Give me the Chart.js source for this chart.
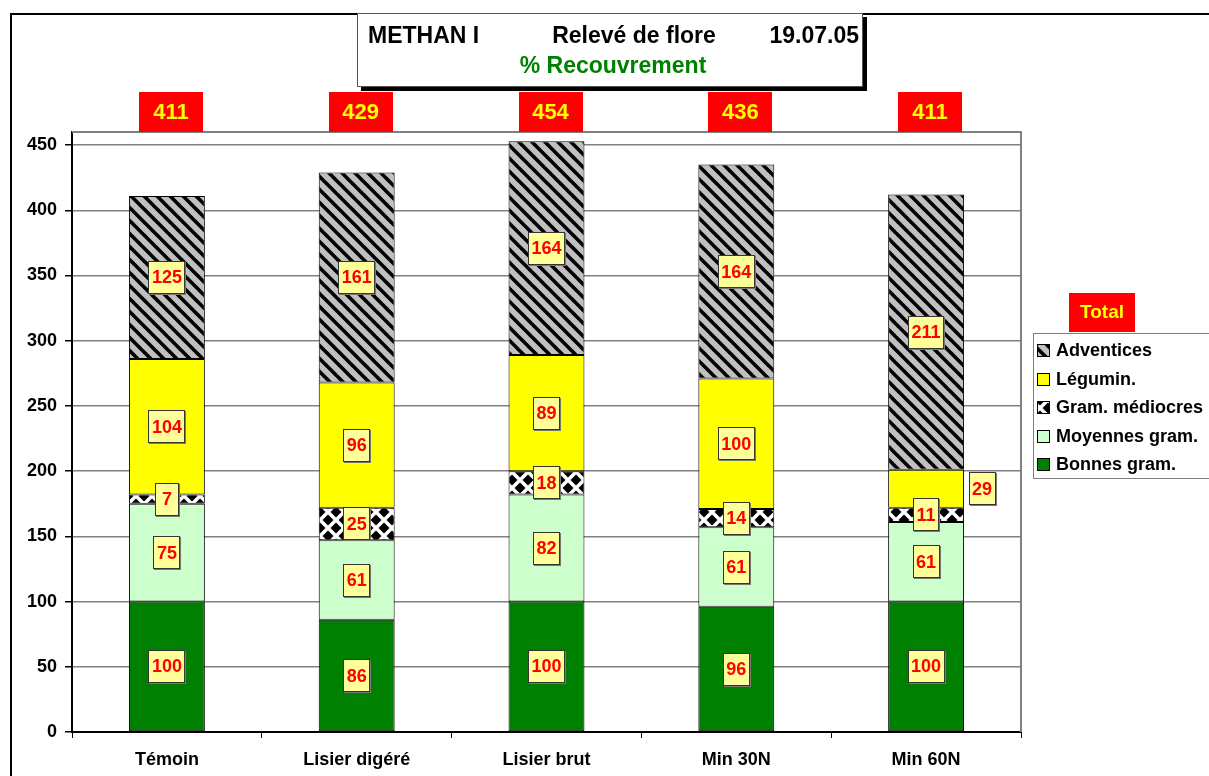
<!DOCTYPE html>
<html lang="fr">
<head>
  <meta charset="UTF-8" />
  <title>METHAN I - Relevé de flore</title>
  <script src="https://cdn.jsdelivr.net/npm/chart.js"></script>
  <style>
    body { margin: 0; background: #fff; }
    .wrap { position: relative; width: 1209px; height: 776px; }
  </style>
</head>
<body>
  <div class="wrap"><canvas id="flore"></canvas></div>
  <script>
    // values
    const categories = ['Témoin', 'Lisier digéré', 'Lisier brut', 'Min 30N', 'Min 60N'];
    const bonnes = [100, 86, 100, 96, 100];
    const moyennes = [75, 61, 82, 61, 61];
    const mediocres = [7, 25, 18, 14, 11];
    const legumin = [104, 96, 89, 100, 29];
    const adventices = [125, 161, 164, 164, 211];
    const totals = [411, 429, 454, 436, 411];
    const yTicks = { min: 0, max: 460, step: 50 };

    const font = '"Liberation Sans", Arial, sans-serif';

    // hatch patterns
    function stripePattern() {
      const c = document.createElement('canvas');
      c.width = 13; c.height = 13;
      const g = c.getContext('2d');
      g.fillStyle = '#c0c0c0';
      g.fillRect(0, 0, 13, 13);
      g.strokeStyle = '#000';
      g.lineWidth = 3.6;
      for (let k = -1; k <= 1; k++) {
        g.beginPath();
        g.moveTo(-2 + k * 13, -2);
        g.lineTo(15 + k * 13, 15);
        g.stroke();
      }
      return g.createPattern(c, 'repeat');
    }
    function diamondPattern() {
      const c = document.createElement('canvas');
      c.width = 16; c.height = 16;
      const g = c.getContext('2d');
      g.fillStyle = '#fff';
      g.fillRect(0, 0, 16, 16);
      g.fillStyle = '#000';
      const dia = (x, y, r) => {
        g.beginPath();
        g.moveTo(x, y - r); g.lineTo(x + r, y); g.lineTo(x, y + r); g.lineTo(x - r, y);
        g.closePath(); g.fill();
      };
      dia(8, 8, 5.5);
      [[0, 0], [16, 0], [0, 16], [16, 16]].forEach(p => dia(p[0], p[1], 5.5));
      return g.createPattern(c, 'repeat');
    }
    const stripes = stripePattern();
    const diamonds = diamondPattern();

    const series = [
      { label: 'Bonnes gram.', data: bonnes, backgroundColor: '#008000' },
      { label: 'Moyennes gram.', data: moyennes, backgroundColor: '#ccffcc' },
      { label: 'Gram. médiocres', data: mediocres, backgroundColor: diamonds },
      { label: 'Légumin.', data: legumin, backgroundColor: '#ffff00' },
      { label: 'Adventices', data: adventices, backgroundColor: stripes }
    ];

    function box(ctx, x, y, w, h, fill, stroke) {
      ctx.fillStyle = fill;
      ctx.fillRect(x, y, w, h);
      if (stroke) {
        ctx.strokeStyle = stroke;
        ctx.lineWidth = 1;
        ctx.strokeRect(x + 0.5, y + 0.5, w - 1, h - 1);
      }
    }

    const decor = {
      id: 'decor',
      beforeDraw(chart) {
        const ctx = chart.ctx;
        ctx.save();
        ctx.strokeStyle = '#000';
        ctx.lineWidth = 2;
        ctx.beginPath();
        ctx.moveTo(11, 776); ctx.lineTo(11, 14); ctx.lineTo(1209, 14);
        ctx.stroke();
        ctx.restore();
      },
      afterDatasetsDraw(chart) {
        const ctx = chart.ctx;
        const a = chart.chartArea;
        ctx.save();
        // plot frame top / right
        ctx.strokeStyle = '#808080';
        ctx.lineWidth = 2;
        ctx.beginPath();
        ctx.moveTo(a.left, a.top); ctx.lineTo(a.right, a.top); ctx.lineTo(a.right, a.bottom);
        ctx.stroke();

        // segment labels
        ctx.font = 'bold 18px ' + font;
        ctx.textAlign = 'center';
        ctx.textBaseline = 'middle';
        chart.data.datasets.forEach((ds, di) => {
          const meta = chart.getDatasetMeta(di);
          meta.data.forEach((bar, i) => {
            const txt = String(ds.data[i]);
            let x = bar.x;
            const y = (bar.y + bar.base) / 2;
            if (di === 3 && i === 4) x = bar.x + bar.width / 2 + 18;
            const w = Math.max(ctx.measureText(txt).width + 7, 24);
            const h = 33;
            box(ctx, Math.round(x - w / 2) + 1, Math.round(y - h / 2) + 1, w, h, '#777', null);
            box(ctx, Math.round(x - w / 2), Math.round(y - h / 2), w, h, '#ffff99', '#333');
            ctx.fillStyle = '#ff0000';
            ctx.fillText(txt, x, y + 1);
          });
        });

        // totals above the bars
        const top = chart.getDatasetMeta(0).data;
        ctx.font = 'bold 22px ' + font;
        top.forEach((bar, i) => {
          const cx = bar.x + 4;
          box(ctx, Math.round(cx - 32), 92, 64, 40, '#ff0000', null);
          ctx.fillStyle = '#ffff00';
          ctx.fillText(String(totals[i]), cx, 113);
        });

        // title box
        box(ctx, 361, 17, 506, 74, '#000', null);
        box(ctx, 357, 13, 506, 74, '#fff', '#555');
        ctx.font = 'bold 23px ' + font;
        ctx.fillStyle = '#000';
        ctx.textAlign = 'left';
        ctx.fillText('METHAN I', 368, 37);
        ctx.textAlign = 'center';
        ctx.fillText('Relevé de flore', 634, 37);
        ctx.textAlign = 'right';
        ctx.fillText('19.07.05', 859, 37);
        ctx.textAlign = 'center';
        ctx.fillStyle = '#008000';
        ctx.fillText('% Recouvrement', 613, 67);

        // legend
        box(ctx, 1069, 293, 66, 39, '#ff0000', null);
        ctx.font = 'bold 19px ' + font;
        ctx.fillStyle = '#ffff00';
        ctx.fillText('Total', 1102, 313);
        box(ctx, 1033, 333, 180, 146, '#fff', '#808080');
        ctx.font = 'bold 18px ' + font;
        ctx.textAlign = 'left';
        const items = chart.data.datasets.slice().reverse();
        items.forEach((ds, k) => {
          const cy = 350 + k * 28.6;
          box(ctx, 1037, Math.round(cy - 6), 13, 13, ds.backgroundColor, '#000');
          ctx.fillStyle = '#000';
          ctx.fillText(ds.label, 1056, cy + 1);
        });
        ctx.restore();
      }
    };

    new Chart(document.getElementById('flore'), {
      type: 'bar',
      data: {
        labels: categories,
        datasets: series.map(s => Object.assign({
          borderColor: '#000',
          borderWidth: 1,
          borderSkipped: false,
          barPercentage: 0.4,
          categoryPercentage: 1
        }, s))
      },
      options: {
        responsive: true,
        maintainAspectRatio: false,
        animation: false,
        layout: { padding: { left: 10, top: 132, right: 188, bottom: 0 } },
        plugins: { legend: { display: false }, tooltip: { enabled: false } },
        scales: {
          x: {
            stacked: true,
            offset: true,
            afterFit: s => { s.height = 44; },
            grid: { offset: true, drawOnChartArea: false, tickLength: 6, color: '#000' },
            border: { color: '#000', width: 2 },
            ticks: { color: '#000', font: { family: font, size: 18, weight: 'bold' }, padding: 11, maxRotation: 0 }
          },
          y: {
            stacked: true,
            min: yTicks.min,
            max: yTicks.max,
            afterFit: s => { s.width = 62; },
            grid: { color: '#808080', lineWidth: 1.5, tickLength: 7, tickColor: '#000' },
            border: { color: '#000', width: 2 },
            ticks: {
              stepSize: yTicks.step,
              includeBounds: false,
              color: '#000',
              padding: 8,
              font: { family: font, size: 18, weight: 'bold' }
            }
          }
        }
      },
      plugins: [decor]
    });
  </script>
</body>
</html>
